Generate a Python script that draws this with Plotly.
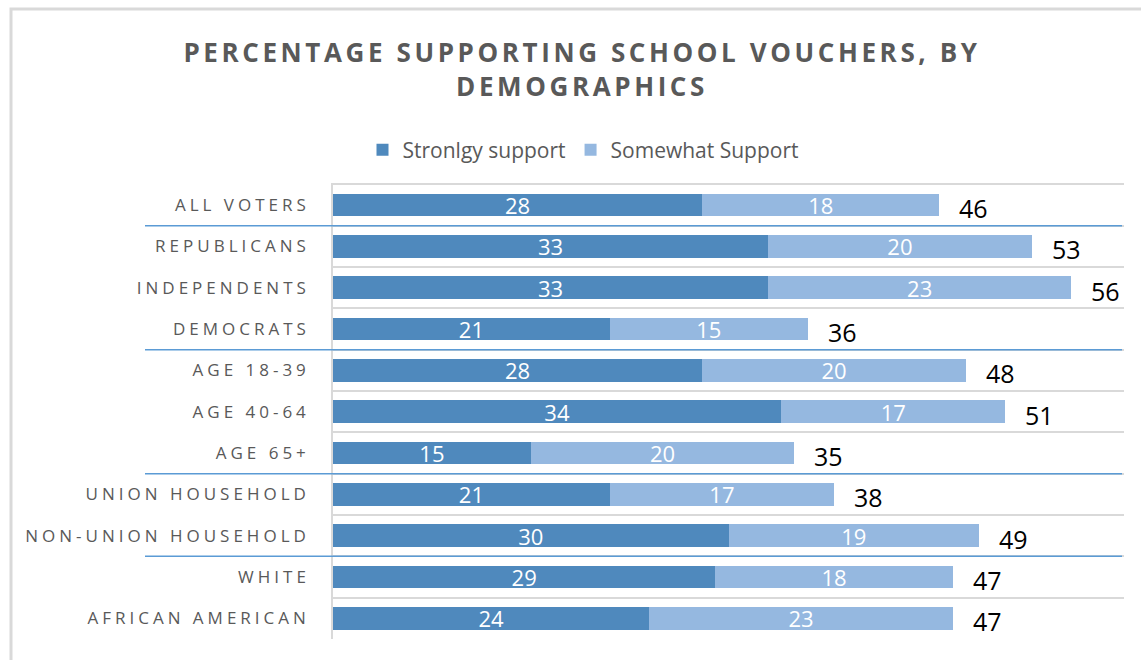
import plotly.graph_objects as go

# Survey groups, top to bottom
categories = [
    "ALL VOTERS", "REPUBLICANS", "INDEPENDENTS", "DEMOCRATS",
    "AGE 18-39", "AGE 40-64", "AGE 65+",
    "UNION HOUSEHOLD", "NON-UNION HOUSEHOLD",
    "WHITE", "AFRICAN AMERICAN",
]
strongly_support = [28, 33, 33, 21, 28, 34, 15, 21, 30, 29, 24]
somewhat_support = [18, 20, 23, 15, 20, 17, 20, 17, 19, 18, 23]
totals = [46, 53, 56, 36, 48, 51, 35, 38, 49, 47, 47]

# Last category of each group; a blue rule is drawn beneath it
group_ends = ["ALL VOTERS", "DEMOCRATS", "AGE 65+", "NON-UNION HOUSEHOLD"]

DARK = "#4F89BD"
LIGHT = "#95B8E0"
GRAY_TEXT = "#595959"
FONT = "Open Sans"

W, H = 1141, 660
ML, MR, MT, MB = 333, 17, 183, 21
PW, PH = W - ML - MR, H - MT - MB

fig = go.Figure()
for name, vals, color in [("Stronlgy support", strongly_support, DARK),
                          ("Somewhat Support", somewhat_support, LIGHT)]:
    fig.add_trace(go.Bar(
        name=name, y=categories, x=vals, orientation="h",
        marker=dict(color=color, line=dict(width=0)),
        text=vals, textposition="inside", insidetextanchor="middle",
        textangle=0, constraintext="none",
        textfont=dict(family=FONT, size=22, color="white"),
        hoverinfo="skip",
    ))

# Totals to the right of each stacked bar
for cat, tot in zip(categories, totals):
    fig.add_annotation(
        x=tot, y=cat, xref="x", yref="y", text=str(tot), showarrow=False,
        xanchor="left", yanchor="middle", xshift=18, yshift=-3,
        font=dict(family=FONT, size=25, color="black"),
    )

def px_x(px):
    return (px - ML) / PW

def px_y(py):
    return 1 - (py - MT) / PH

shapes = []
# Group separators
for cat in group_ends:
    yv = categories.index(cat) + 0.5
    shapes.append(dict(
        type="line", xref="paper", yref="y",
        x0=px_x(145), x1=px_x(1122), y0=yv, y1=yv,
        line=dict(color="#5B9BD5", width=1.5), layer="above",
    ))
# Chart frame
shapes.append(dict(
    type="rect", xref="paper", yref="paper",
    x0=px_x(11), x1=px_x(1160), y0=px_y(680), y1=px_y(9),
    line=dict(color="#D9D9D9", width=3), fillcolor="rgba(0,0,0,0)", layer="below",
))

fig.update_layout(
    width=W, height=H,
    margin=dict(l=ML, r=MR, t=MT, b=MB, pad=0),
    paper_bgcolor="white", plot_bgcolor="white",
    barmode="stack", bargap=0.445,
    title=dict(
        text="PERCENTAGE SUPPORTING SCHOOL VOUCHERS, BY<br>DEMOGRAPHICS",
        x=582 / W, xanchor="center", xref="container",
        y=1 - 62 / H, yanchor="middle", yref="container",
        font=dict(family=FONT, size=26, color=GRAY_TEXT, weight="bold"),
    ),
    legend=dict(
        orientation="h", x=px_x(583), xanchor="center",
        y=px_y(150), yanchor="middle",
        font=dict(family=FONT, size=21, color=GRAY_TEXT),
        itemwidth=30, traceorder="normal", bgcolor="rgba(0,0,0,0)",
    ),
    xaxis=dict(range=[0, 60], visible=False, fixedrange=True),
    yaxis=dict(
        categoryorder="array", categoryarray=categories, autorange="reversed",
        tickson="boundaries", showgrid=True, gridcolor="#D9D9D9", gridwidth=1.5,
        showline=True, linecolor="#D9D9D9", linewidth=1.5, ticks="",
        ticklabelstandoff=18,
        tickfont=dict(family=FONT, size=17, color=GRAY_TEXT),
        zeroline=False, fixedrange=True,
    ),
    shapes=shapes,
    showlegend=True,
)

# Widen the tracking of the category labels and the title
post = """
function spaceOut(){
  var gd = document.getElementById('{plot_id}');
  gd.querySelectorAll('.ytick text').forEach(function(t){ t.style.letterSpacing = '4px'; });
  gd.querySelectorAll('.gtitle').forEach(function(t){ t.style.letterSpacing = '3.6px'; });
}
spaceOut();
document.getElementById('{plot_id}').on('plotly_afterplot', spaceOut);
"""

fig.write_html("out.html", post_script=post, config={"displayModeBar": False})
